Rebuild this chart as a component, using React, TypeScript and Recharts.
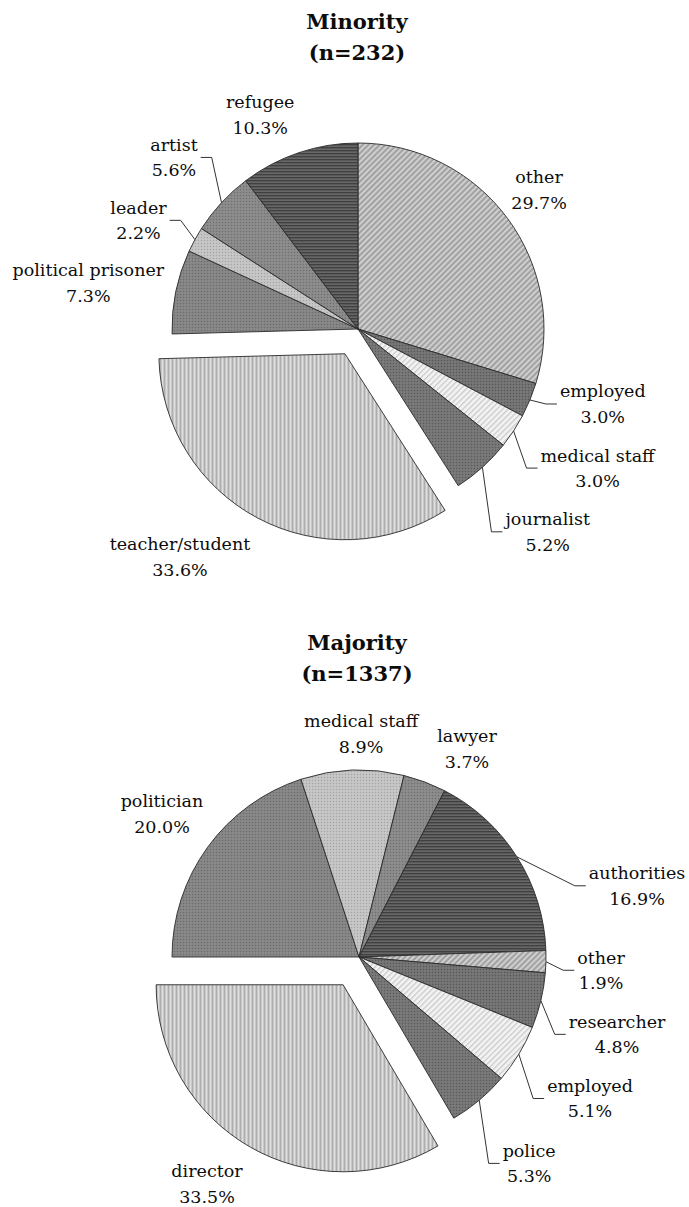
import React from 'react';
import { PieChart, Pie, Cell, Sector } from 'recharts';

// ---------- data ----------
const minorityNames = ['other', 'employed', 'medical staff', 'journalist', 'teacher/student', 'political prisoner', 'leader', 'artist', 'refugee'];
const minorityValues = [29.7, 3.0, 3.0, 5.2, 33.6, 7.3, 2.2, 5.6, 10.3];

const majorityNames = ['politician', 'medical staff', 'lawyer', 'authorities', 'other', 'researcher', 'employed', 'police', 'director'];
const majorityValues = [20.0, 8.9, 3.7, 16.9, 1.9, 4.8, 5.1, 5.3, 33.5];

const minorityTitle = ['Minority', '(n=232)'];
const majorityTitle = ['Majority', '(n=1337)'];

// ---------- styling / layout ----------
const minorityPatterns = ['diag', 'dotsDark', 'diagLight', 'dotsDark2', 'vstripe', 'mid', 'dotsLight', 'mid2', 'hstripe'];
const majorityPatterns = ['mid', 'dotsLight', 'mid2', 'hstripe', 'diag', 'dotsDark', 'diagLight', 'dotsDark2', 'vstripe'];

// label distance from centre and angular shift (degrees, clockwise) relative to slice mid angle
const minorityLabelDist = [228.5, 256, 277, 277.7, 289, 273.6, 244.9, 251.6, 235.3];
const minorityLabelShift = [-1.1, -5.4, -3.1, -1.1, 10.1, -1.9, -2.4, 0.2, -6];
const minorityLeader = [false, true, true, true, false, false, true, true, false];

const majorityLabelDist = [243.7, 223.5, 234.8, 287, 242.4, 269.4, 270.9, 267.5, 272.8];
const majorityLabelShift = [0.1, 2.6, 6.8, 18, 1.7, 3.2, 0.2, 0.5, 4.1];
const majorityLeader = [false, false, false, true, true, true, true, true, false];

const FONT = '"DejaVu Serif", "Liberation Serif", serif';
const LABEL_SIZE = 17.5;
const TEXT_COLOR = '#0c0c0c';
const RAD = Math.PI / 180;

const minorityData = minorityNames.map((name, i) => ({ name, value: minorityValues[i] }));
const majorityData = majorityNames.map((name, i) => ({ name, value: majorityValues[i] }));

let measureCtx: CanvasRenderingContext2D | null = null;
function textWidth(s: string): number {
  if (!measureCtx) {
    const c = document.createElement('canvas');
    measureCtx = c.getContext('2d');
  }
  if (!measureCtx) return s.length * LABEL_SIZE * 0.52;
  measureCtx.font = `${LABEL_SIZE}px "DejaVu Serif"`;
  return measureCtx.measureText(s).width;
}

type Cfg = {
  prefix: string;
  patterns: string[];
  dist: number[];
  shift: number[];
  leader: boolean[];
  explode: number;
  explodeOffset: number;
};

function makeLabel(cfg: Cfg) {
  return (props: any) => {
    const { cx, cy, midAngle, outerRadius, startAngle, endAngle, index, name, value } = props;
    const items: React.ReactNode[] = [];
    if (index === cfg.explode) {
      const ox = cx + cfg.explodeOffset * Math.cos(midAngle * RAD);
      const oy = cy - cfg.explodeOffset * Math.sin(midAngle * RAD);
      items.push(
        <Sector
          key="sec"
          cx={ox}
          cy={oy}
          innerRadius={0}
          outerRadius={outerRadius}
          startAngle={startAngle}
          endAngle={endAngle}
          fill={`url(#${cfg.prefix}${cfg.patterns[index]})`}
          stroke="#2a2a2a"
          strokeWidth={0.9}
        />
      );
    }
    const a = midAngle - cfg.shift[index];
    const d = cfg.dist[index];
    const xb = cx + d * Math.cos(a * RAD);
    const yb = cy - d * Math.sin(a * RAD);
    if (cfg.leader[index]) {
      const side = Math.cos(a * RAD) >= 0 ? 1 : -1;
      const w = textWidth(String(name));
      const endX = side > 0 ? xb - w / 2 - 3 : xb + w / 2 + 3;
      const elbowX = endX - side * 11;
      const sx = cx + outerRadius * Math.cos(midAngle * RAD);
      const sy = cy - outerRadius * Math.sin(midAngle * RAD);
      items.push(
        <polyline
          key="ln"
          points={`${sx},${sy} ${elbowX},${yb} ${endX},${yb}`}
          fill="none"
          stroke="#333"
          strokeWidth={1}
        />
      );
    }
    items.push(
      <text key="n" x={xb} y={yb - 6.5} textAnchor="middle" fontFamily={FONT} fontSize={LABEL_SIZE} fill={TEXT_COLOR}>
        {name}
      </text>
    );
    items.push(
      <text key="v" x={xb} y={yb + 19} textAnchor="middle" fontFamily={FONT} fontSize={LABEL_SIZE} fill={TEXT_COLOR}>
        {`${Number(value).toFixed(1)}%`}
      </text>
    );
    return <g>{items}</g>;
  };
}

function renderDefs(p: string) {
  return (
    <defs>
      <pattern id={`${p}diag`} width="4" height="4" patternUnits="userSpaceOnUse" patternTransform="rotate(45)">
        <rect width="4" height="4" fill="#a2a2a2" />
        <rect width="1.7" height="4" fill="#d6d6d6" />
      </pattern>
      <pattern id={`${p}diagLight`} width="4" height="4" patternUnits="userSpaceOnUse" patternTransform="rotate(45)">
        <rect width="4" height="4" fill="#f3f3f3" />
        <rect width="1.3" height="4" fill="#c9c9c9" />
      </pattern>
      <pattern id={`${p}dotsDark`} width="3" height="3" patternUnits="userSpaceOnUse">
        <rect width="3" height="3" fill="#707070" />
        <rect width="1" height="1" fill="#575757" />
        <rect x="1.5" y="1.5" width="1" height="1" fill="#8a8a8a" />
      </pattern>
      <pattern id={`${p}dotsDark2`} width="3" height="3" patternUnits="userSpaceOnUse">
        <rect width="3" height="3" fill="#737373" />
        <rect width="1" height="1" fill="#5b5b5b" />
        <rect x="1.5" y="1.5" width="1" height="1" fill="#8e8e8e" />
      </pattern>
      <pattern id={`${p}mid`} width="3" height="3" patternUnits="userSpaceOnUse">
        <rect width="3" height="3" fill="#838383" />
        <rect width="1" height="1" fill="#6b6b6b" />
        <rect x="1.5" y="1.5" width="1" height="1" fill="#9b9b9b" />
      </pattern>
      <pattern id={`${p}mid2`} width="3" height="3" patternUnits="userSpaceOnUse">
        <rect width="3" height="3" fill="#878787" />
        <rect width="1" height="1" fill="#6f6f6f" />
        <rect x="1.5" y="1.5" width="1" height="1" fill="#a0a0a0" />
      </pattern>
      <pattern id={`${p}dotsLight`} width="3" height="3" patternUnits="userSpaceOnUse">
        <rect width="3" height="3" fill="#c1c1c1" />
        <rect width="1" height="1" fill="#a4a4a4" />
        <rect x="1.5" y="1.5" width="1" height="1" fill="#dadada" />
      </pattern>
      <pattern id={`${p}vstripe`} width="4" height="4" patternUnits="userSpaceOnUse">
        <rect width="4" height="4" fill="#c8c8c8" />
        <rect width="1" height="4" fill="#adadad" />
        <rect x="2" width="1" height="4" fill="#dedede" />
      </pattern>
      <pattern id={`${p}hstripe`} width="3" height="3" patternUnits="userSpaceOnUse">
        <rect width="3" height="3" fill="#595959" />
        <rect width="3" height="1" fill="#404040" />
        <rect y="2" width="3" height="0.6" fill="#707070" />
      </pattern>
    </defs>
  );
}

const minorityCfg: Cfg = {
  prefix: 'mi-',
  patterns: minorityPatterns,
  dist: minorityLabelDist,
  shift: minorityLabelShift,
  leader: minorityLeader,
  explode: 4,
  explodeOffset: 28,
};
const majorityCfg: Cfg = {
  prefix: 'ma-',
  patterns: majorityPatterns,
  dist: majorityLabelDist,
  shift: majorityLabelShift,
  leader: majorityLeader,
  explode: 8,
  explodeOffset: 32,
};

const minorityLabel = makeLabel(minorityCfg);
const majorityLabel = makeLabel(majorityCfg);

const titleStyle: React.CSSProperties = {
  position: 'absolute',
  left: 0,
  width: 714,
  textAlign: 'center',
  fontFamily: FONT,
  fontWeight: 'bold',
  fontSize: 21,
  lineHeight: '31px',
  color: '#0c0c0c',
};

export default function App() {
  return (
    <div style={{ position: 'absolute', left: 0, top: 0, width: 689, height: 1207, background: '#fff', overflow: 'hidden' }}>
      <div style={{ position: 'absolute', left: 0, top: 0 }}>
        <PieChart width={689} height={600} margin={{ top: 0, right: 0, bottom: 0, left: 0 }}>
          {renderDefs('mi-')}
          <Pie
            data={minorityData}
            dataKey="value"
            nameKey="name"
            cx={358}
            cy={329}
            outerRadius={186}
            startAngle={90}
            endAngle={-270}
            label={minorityLabel}
            labelLine={false}
            isAnimationActive={false}
            stroke="#2a2a2a"
            strokeWidth={0.9}
          >
            {minorityData.map((d, i) => (
              <Cell
                key={d.name}
                fill={i === minorityCfg.explode ? 'none' : `url(#mi-${minorityPatterns[i]})`}
                stroke={i === minorityCfg.explode ? 'none' : '#2a2a2a'}
              />
            ))}
          </Pie>
        </PieChart>
      </div>
      <div style={{ position: 'absolute', left: 0, top: 600 }}>
        <PieChart width={689} height={607} margin={{ top: 0, right: 0, bottom: 0, left: 0 }}>
          {renderDefs('ma-')}
          <Pie
            data={majorityData}
            dataKey="value"
            nameKey="name"
            cx={359}
            cy={357}
            outerRadius={187}
            startAngle={180}
            endAngle={-180}
            label={majorityLabel}
            labelLine={false}
            isAnimationActive={false}
            stroke="#2a2a2a"
            strokeWidth={0.9}
          >
            {majorityData.map((d, i) => (
              <Cell
                key={d.name}
                fill={i === majorityCfg.explode ? 'none' : `url(#ma-${majorityPatterns[i]})`}
                stroke={i === majorityCfg.explode ? 'none' : '#2a2a2a'}
              />
            ))}
          </Pie>
        </PieChart>
      </div>
      <div style={{ ...titleStyle, top: 5.5 }}>
        <div>{minorityTitle[0]}</div>
        <div>{minorityTitle[1]}</div>
      </div>
      <div style={{ ...titleStyle, top: 626.5 }}>
        <div>{majorityTitle[0]}</div>
        <div>{majorityTitle[1]}</div>
      </div>
    </div>
  );
}
